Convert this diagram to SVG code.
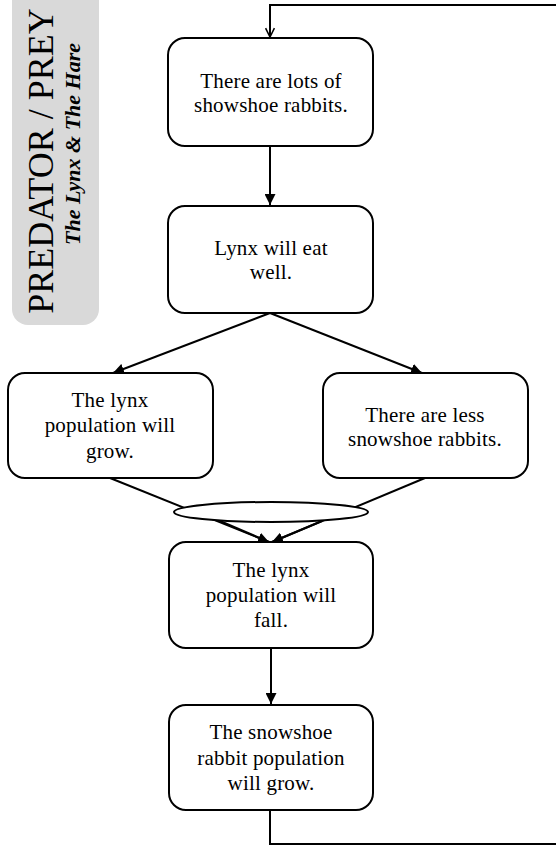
<svg xmlns="http://www.w3.org/2000/svg" width="556" height="846" viewBox="0 0 556 846">
  <style>
    .box { fill: #ffffff; stroke: #000000; stroke-width: 2; }
    .lbl { font-family: "Liberation Serif", "Times New Roman", "DejaVu Serif", serif; font-size: 21px; letter-spacing: 0.2px; fill: #000000; text-anchor: middle; }
    .wire { fill: none; stroke: #000000; stroke-width: 2; }
  </style>
  <defs>
    <marker id="tri" viewBox="0 0 10 10" refX="10" refY="5" markerWidth="5.5" markerHeight="5.5" orient="auto" markerUnits="strokeWidth">
      <path d="M0,0 L10,5 L0,10 z" fill="#000000"/>
    </marker>
    <marker id="vee" viewBox="0 0 10 10" refX="9" refY="5" markerWidth="11" markerHeight="11" orient="auto" markerUnits="userSpaceOnUse">
      <path d="M1,1 L9,5 L1,9" fill="none" stroke="#000000" stroke-width="1.4"/>
    </marker>
  </defs>

  <!-- Title tab -->
  <g id="title">
    <rect x="12" y="-16" width="87" height="341" rx="16" ry="16" fill="#d9d9d9"/>
    <text transform="translate(53,161) rotate(-90)" font-family="Liberation Serif, Times New Roman, DejaVu Serif, serif" font-size="36" text-anchor="middle" fill="#000000">PREDATOR / PREY</text>
    <text transform="translate(80,144) rotate(-90)" font-family="Liberation Serif, Times New Roman, DejaVu Serif, serif" font-size="22" font-weight="bold" font-style="italic" text-anchor="middle" fill="#000000">The Lynx &amp; The Hare</text>
  </g>

  <!-- Connectors -->
  <g id="connectors">
    <path class="wire" d="M270,810 V844 H570 V5 H270 V37" marker-end="url(#vee)"/>
    <path class="wire" d="M270,146 V205" marker-end="url(#tri)"/>
    <path class="wire" d="M270,313 L113,373" marker-end="url(#tri)"/>
    <path class="wire" d="M270,313 L422,373" marker-end="url(#tri)"/>
    <path class="wire" d="M110,478 L269,542" marker-end="url(#tri)"/>
    <path class="wire" d="M425,478 L272,542" marker-end="url(#tri)"/>
    <ellipse cx="271" cy="512" rx="97" ry="10" fill="#ffffff" stroke="#000000" stroke-width="2"/>
    <path class="wire" d="M220,521 L269,542" />
    <path class="wire" d="M322,521 L272,542" />
    <path class="wire" d="M271,648 V704" marker-end="url(#tri)"/>
  </g>

  <g id="n1">
    <rect class="box" x="168" y="38" width="205" height="108" rx="17"/>
    <text class="lbl" x="271" y="88">There are lots of</text>
    <text class="lbl" x="271" y="112">showshoe rabbits.</text>
  </g>

  <g id="n2">
    <rect class="box" x="168" y="206" width="205" height="107" rx="17"/>
    <text class="lbl" x="271" y="255">Lynx will  eat</text>
    <text class="lbl" x="271" y="279">well.</text>
  </g>

  <g id="n3">
    <rect class="box" x="8" y="373" width="205" height="105" rx="17"/>
    <text class="lbl" x="110" y="407">The lynx</text>
    <text class="lbl" x="110" y="432">population will</text>
    <text class="lbl" x="110" y="458">grow.</text>
  </g>

  <g id="n4">
    <rect class="box" x="323" y="373" width="205" height="105" rx="17"/>
    <text class="lbl" x="425" y="422">There are less</text>
    <text class="lbl" x="425" y="446">snowshoe rabbits.</text>
  </g>

  <g id="n5">
    <rect class="box" x="169" y="542" width="204" height="106" rx="17"/>
    <text class="lbl" x="271" y="577">The lynx</text>
    <text class="lbl" x="271" y="602">population will</text>
    <text class="lbl" x="271" y="627">fall.</text>
  </g>

  <g id="n6">
    <rect class="box" x="169" y="705" width="204" height="105" rx="17"/>
    <text class="lbl" x="271" y="739">The snowshoe</text>
    <text class="lbl" x="271" y="765">rabbit population</text>
    <text class="lbl" x="271" y="790">will grow.</text>
  </g>
</svg>
